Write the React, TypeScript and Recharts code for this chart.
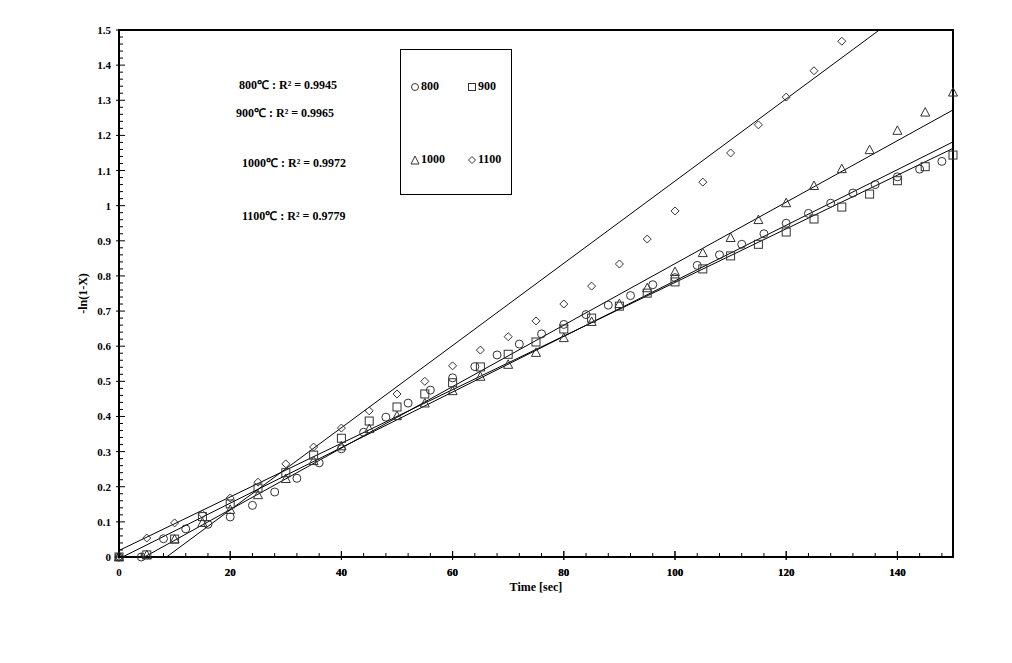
import React from 'react';
import {
  ComposedChart,
  Scatter,
  Line,
  XAxis,
  YAxis,
  ReferenceArea,
  Label,
} from 'recharts';

// measured points, -ln(1-X) vs time [sec]
const time800 = [0, 4, 8, 12, 16, 20, 24, 28, 32, 36, 40, 44, 48, 52, 56, 60, 64, 68, 72, 76, 80, 84, 88, 92, 96, 100, 104, 108, 112, 116, 120, 124, 128, 132, 136, 140, 144, 148];
const val800 = [0, 0, 0.052, 0.08, 0.093, 0.114, 0.147, 0.185, 0.224, 0.268, 0.308, 0.355, 0.398, 0.438, 0.475, 0.51, 0.542, 0.575, 0.606, 0.635, 0.662, 0.69, 0.717, 0.744, 0.775, 0.795, 0.83, 0.86, 0.89, 0.92, 0.95, 0.978, 1.007, 1.036, 1.06, 1.082, 1.104, 1.126];

const time5 = [0, 5, 10, 15, 20, 25, 30, 35, 40, 45, 50, 55, 60, 65, 70, 75, 80, 85, 90, 95, 100, 105, 110, 115, 120, 125, 130, 135, 140, 145, 150];
const val900 = [0, 0.006, 0.051, 0.115, 0.151, 0.196, 0.24, 0.29, 0.338, 0.387, 0.427, 0.464, 0.496, 0.541, 0.577, 0.612, 0.649, 0.68, 0.714, 0.751, 0.783, 0.82, 0.857, 0.89, 0.925, 0.962, 0.996, 1.033, 1.071, 1.111, 1.144];
const val1000 = [0, 0.005, 0.05, 0.097, 0.134, 0.176, 0.222, 0.273, 0.315, 0.364, 0.401, 0.437, 0.472, 0.513, 0.547, 0.581, 0.623, 0.669, 0.72, 0.765, 0.811, 0.865, 0.908, 0.959, 1.007, 1.056, 1.104, 1.158, 1.213, 1.265, 1.322];
const val1100 = [0, 0.054, 0.097, 0.122, 0.168, 0.213, 0.265, 0.313, 0.367, 0.416, 0.464, 0.5, 0.544, 0.589, 0.627, 0.672, 0.72, 0.771, 0.834, 0.905, 0.985, 1.067, 1.15, 1.23, 1.309, 1.384, 1.468];

// linear fits: 800, 900, 1000, 1100
const fitSlopes = [0.00791, 0.00763, 0.00875, 0.0117];
const fitIntercepts = [-0.005, 0.0185, -0.04, -0.1];
const fitLabels = ['800℃ : R² = 0.9945', '900℃ : R² = 0.9965', '1000℃ : R² = 0.9972', '1100℃ : R² = 0.9779'];

const xTicks = Array.from({ length: 38 }, (_, i) => i * 4).filter(v => v <= 150).concat([20, 40, 60, 80, 100, 120, 140, 150]);
const yTicks = Array.from({ length: 76 }, (_, i) => Math.round(i * 2) / 100);

const X_MAX = 150;
const Y_MAX = 1.5;

const FONT = '"Liberation Serif", "Times New Roman", serif';
const INK = '#333';

const toPoints = (ts: number[], vs: number[]) => vs.map((v, i) => ({ t: ts[i], v }));

const fitLine = (m: number, b: number) => {
  const t0 = Math.max(0, -b / m);
  const t1 = Math.min(X_MAX, (Y_MAX - b) / m);
  return [
    { t: t0, v: m * t0 + b },
    { t: t1, v: m * t1 + b },
  ];
};

const CircleDot = (p: any) => <circle cx={p.cx} cy={p.cy} r={4} fill="none" stroke={INK} strokeWidth={1} />;
const SquareDot = (p: any) => <rect x={p.cx - 4} y={p.cy - 4} width={8} height={8} fill="none" stroke={INK} strokeWidth={1} />;
const TriangleDot = (p: any) => (
  <polygon points={`${p.cx},${p.cy - 5} ${p.cx + 4.5},${p.cy + 3.5} ${p.cx - 4.5},${p.cy + 3.5}`} fill="none" stroke={INK} strokeWidth={1} />
);
const DiamondDot = (p: any) => (
  <polygon points={`${p.cx},${p.cy - 4} ${p.cx + 4},${p.cy} ${p.cx},${p.cy + 4} ${p.cx - 4},${p.cy}`} fill="none" stroke={INK} strokeWidth={1} />
);

const isMajorY = (v: number) => Math.abs(v * 10 - Math.round(v * 10)) < 1e-6;
const isMajorX = (v: number) => v % 20 === 0;

const YTick = (props: any) => {
  const { x, y, payload } = props;
  const axisX = x + 8;
  const major = isMajorY(payload.value);
  return (
    <g>
      <line x1={major ? axisX - 3 : axisX} x2={axisX + (major ? 6 : 4)} y1={y} y2={y} stroke="#000" strokeWidth={1} />
      {major && (
        <text x={x} y={y} dy={4} textAnchor="end" fontFamily={FONT} fontWeight="bold" fontSize={11} fill="#000">
          {Number(payload.value.toFixed(1)).toString()}
        </text>
      )}
    </g>
  );
};

const XTick = (props: any) => {
  const { x, y, payload } = props;
  const axisY = y - 8;
  const major = isMajorX(payload.value);
  if (payload.value === 150) return <g />;
  return (
    <g>
      <line x1={x} x2={x} y1={major ? axisY + 3 : axisY} y2={axisY - (major ? 6 : 4)} stroke="#000" strokeWidth={1} />
      {major && (
        <text x={x} y={y} dy={11} textAnchor="middle" fontFamily={FONT} fontWeight="bold" fontSize={11} fill="#000">
          {payload.value}
        </text>
      )}
    </g>
  );
};

const LegendIcon = ({ kind }: { kind: string }) => (
  <svg width={10} height={10} style={{ marginRight: 1, verticalAlign: 'middle' }}>
    {kind === 'circle' && <circle cx={5} cy={5} r={3.5} fill="none" stroke={INK} />}
    {kind === 'square' && <rect x={1.5} y={1.5} width={7} height={7} fill="none" stroke={INK} />}
    {kind === 'triangle' && <polygon points="5,1 9,9 1,9" fill="none" stroke={INK} />}
    {kind === 'diamond' && <polygon points="5,1.5 8.5,5 5,8.5 1.5,5" fill="none" stroke={INK} />}
  </svg>
);

const legendItems = [
  { kind: 'circle', label: '800', left: 9, top: 29 },
  { kind: 'square', label: '900', left: 66, top: 29 },
  { kind: 'triangle', label: '1000', left: 9, top: 102 },
  { kind: 'diamond', label: '1100', left: 66, top: 102 },
];

const annotationPos = [
  { left: 239, top: 76 },
  { left: 236, top: 104 },
  { left: 242, top: 154 },
  { left: 242, top: 207 },
];

export default function App() {
  const d800 = toPoints(time800, val800);
  const d900 = toPoints(time5, val900);
  const d1000 = toPoints(time5, val1000);
  const d1100 = toPoints(time5, val1100);

  return (
    <div style={{ position: 'absolute', left: 0, top: 0, width: 1012, height: 663, background: '#fff' }}>
      <ComposedChart width={1012} height={663} margin={{ top: 30, right: 59, bottom: 66, left: 59 }}>
        <XAxis
          dataKey="t"
          type="number"
          domain={[0, X_MAX]}
          ticks={xTicks}
          interval={0}
          height={40}
          tickSize={0}
          tickMargin={8}
          tickLine={false}
          tick={<XTick />}
          axisLine={{ stroke: '#000', strokeWidth: 2 }}
        >
          <Label value="Time [sec]" position="insideBottom" offset={6} style={{ fontFamily: FONT, fontWeight: 'bold', fontSize: 12, fill: '#000' }} />
        </XAxis>
        <YAxis
          type="number"
          domain={[0, Y_MAX]}
          ticks={yTicks}
          interval={0}
          width={60}
          tickSize={0}
          tickMargin={8}
          tickLine={false}
          tick={<YTick />}
          axisLine={{ stroke: '#000', strokeWidth: 2 }}
        >
          <Label value="-ln(1-X)" angle={-90} position="insideLeft" offset={24} style={{ fontFamily: FONT, fontWeight: 'bold', fontSize: 12, fill: '#000', textAnchor: 'middle' }} />
        </YAxis>
        <ReferenceArea x1={0} x2={X_MAX} y1={0} y2={Y_MAX} fill="none" fillOpacity={0} stroke="#000" strokeWidth={2} ifOverflow="visible" />

        {fitSlopes.map((m, i) => (
          <Line
            key={`fit-${i}`}
            data={fitLine(m, fitIntercepts[i])}
            dataKey="v"
            type="linear"
            stroke="#000"
            strokeWidth={1}
            dot={false}
            activeDot={false}
            isAnimationActive={false}
          />
        ))}

        <Scatter data={d800} dataKey="v" shape={CircleDot} isAnimationActive={false} />
        <Scatter data={d900} dataKey="v" shape={SquareDot} isAnimationActive={false} />
        <Scatter data={d1000} dataKey="v" shape={TriangleDot} isAnimationActive={false} />
        <Scatter data={d1100} dataKey="v" shape={DiamondDot} isAnimationActive={false} />
      </ComposedChart>

      {fitLabels.map((txt, i) => (
        <div
          key={txt}
          style={{
            position: 'absolute',
            left: annotationPos[i].left,
            top: annotationPos[i].top,
            fontFamily: FONT,
            fontWeight: 'bold',
            fontSize: 12,
            whiteSpace: 'nowrap',
            color: '#000',
          }}
        >
          {txt}
        </div>
      ))}

      <div
        style={{
          position: 'absolute',
          left: 400,
          top: 49,
          width: 112,
          height: 146,
          boxSizing: 'border-box',
          border: '1px solid #000',
          background: '#fff',
        }}
      >
        {legendItems.map(it => (
          <div
            key={it.label}
            style={{
              position: 'absolute',
              left: it.left,
              top: it.top,
              fontFamily: FONT,
              fontWeight: 'bold',
              fontSize: 12,
              whiteSpace: 'nowrap',
              lineHeight: '14px',
            }}
          >
            <LegendIcon kind={it.kind} />
            {it.label}
          </div>
        ))}
      </div>
    </div>
  );
}
